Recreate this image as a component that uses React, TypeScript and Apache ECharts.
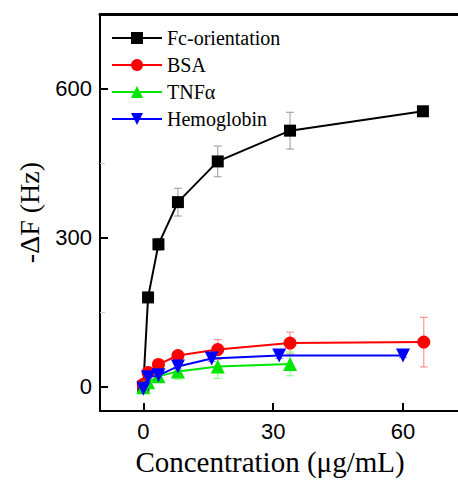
import React, { useEffect, useRef } from "react";
import * as echarts from "echarts";

const seriesNames = ["Fc-orientation", "BSA", "TNFα", "Hemoglobin"];
const seriesColors = ["#000000", "#ff0000", "#00e600", "#0000ff"];
const errColors = ["#999999", "#ff8080", "#80ff80", "#8080ff"];
const symbols = ["rect", "circle", "triangle", "path://M0,0 L10,0 L5,9 Z"];
const symbolSizes = [12, 13, 14, 14];

const fcX = [0, 1.1, 3.5, 8, 17.2, 33.9, 64.6];
const fcY = [0, 179, 286, 371, 453, 515, 554];
const fcErr = [0, 4, 12, 28, 31, 37, 6];

const bsaX = [0, 1.1, 3.5, 8, 17.2, 33.9, 64.8];
const bsaY = [4, 28, 44, 62, 74, 87, 89];
const bsaErr = [0, 4, 5, 6, 20, 22, 50];

const tnfX = [0, 1.1, 3.5, 8, 17.2, 33.9];
const tnfY = [-2, 8, 20, 30, 40, 45];
const tnfErr = [3, 4, 6, 16, 24, 24];

const hbX = [0, 1.1, 3.5, 8, 15.8, 31.4, 60];
const hbY = [-5, 18, 22, 40, 56, 62, 62];
const hbErr = [0, 3, 4, 5, 6, 6, 4];

const xTicks = [0, 30, 60];
const yTicks = [0, 300, 600];
const yMinorTicks = [150, 450];

const allX = [fcX, bsaX, tnfX, hbX];
const allY = [fcY, bsaY, tnfY, hbY];
const allErr = [fcErr, bsaErr, tnfErr, hbErr];

export default function App() {
  const ref = useRef<HTMLDivElement>(null);
  useEffect(() => {
    if (!ref.current) return;
    const chart = echarts.init(ref.current, null, { renderer: "svg" });
    const serif = "Liberation Serif";
    const sans = "Liberation Sans";

    const errSeries = allX.map((xs, i) => ({
      type: "custom",
      name: seriesNames[i] + " err",
      xAxisIndex: 0,
      yAxisIndex: 0,
      z: 1,
      silent: true,
      encode: { x: 0, y: [1, 2] },
      data: xs.map((x, j) => [x, allY[i][j] - allErr[i][j], allY[i][j] + allErr[i][j]]),
      renderItem: (params: any, api: any) => {
        const x = api.value(0);
        const lo = api.coord([x, api.value(1)]);
        const hi = api.coord([x, api.value(2)]);
        const w = 4;
        const st = { stroke: errColors[i], lineWidth: 1 };
        return {
          type: "group",
          children: [
            { type: "line", shape: { x1: lo[0], y1: lo[1], x2: hi[0], y2: hi[1] }, style: st },
            { type: "line", shape: { x1: lo[0] - w, y1: lo[1], x2: lo[0] + w, y2: lo[1] }, style: st },
            { type: "line", shape: { x1: hi[0] - w, y1: hi[1], x2: hi[0] + w, y2: hi[1] }, style: st },
          ],
        };
      },
    }));

    const lineSeries = allX.map((xs, i) => ({
      type: "line",
      name: seriesNames[i],
      xAxisIndex: 0,
      yAxisIndex: 0,
      z: 3 + i,
      symbol: symbols[i],
      symbolSize: symbolSizes[i],
      showAllSymbol: true,
      lineStyle: { color: seriesColors[i], width: 2 },
      itemStyle: { color: seriesColors[i] },
      data: xs.map((x, j) => [x, allY[i][j]]),
    }));

    chart.setOption({
      animation: false,
      backgroundColor: "#ffffff",
      textStyle: { fontFamily: serif },
      grid: { left: 100, right: 0, top: 14, bottom: 65, containLabel: false },
      legend: {
        data: seriesNames.map((n) => ({ name: n, textStyle: { fontFamily: serif, fontSize: 20, color: "#000" } })),
        orient: "vertical",
        left: 106,
        top: 23,
        padding: 5,
        itemWidth: 50,
        itemHeight: 15,
        itemGap: 7,
        textStyle: { fontFamily: serif, fontSize: 20, color: "#000", lineHeight: 20 },
      },
      xAxis: [
        {
          type: "value",
          position: "bottom",
          min: -10,
          max: 72.7,
          name: "Concentration (μg/mL)",
          nameLocation: "middle",
          nameGap: 26,
          nameTextStyle: { fontFamily: serif, fontSize: 29, color: "#000", padding: [0, 18, 0, 0] },
          axisLine: { onZero: false, lineStyle: { color: "#000", width: 2 } },
          axisTick: { inside: true, length: 8, lineStyle: { color: "#000", width: 2 }, customValues: xTicks },
          axisLabel: { customValues: xTicks, fontFamily: sans, fontSize: 22, color: "#000", margin: 9 },
          splitLine: { show: false },
        },
        {
          type: "value",
          position: "top",
          min: -10,
          max: 72.7,
          axisLine: { onZero: false, lineStyle: { color: "#000", width: 3 } },
          axisTick: { show: false },
          axisLabel: { show: false },
          splitLine: { show: false },
        },
      ],
      yAxis: [
        {
          type: "value",
          position: "left",
          min: -50,
          max: 750,
          name: "-ΔF (Hz)",
          nameLocation: "middle",
          nameGap: 57,
          nameTextStyle: { fontFamily: serif, fontSize: 28, color: "#000" },
          axisLine: { onZero: false, lineStyle: { color: "#000", width: 2 } },
          axisTick: { inside: true, length: 8, lineStyle: { color: "#000", width: 2 }, customValues: yTicks },
          axisLabel: { customValues: yTicks, fontFamily: sans, fontSize: 22, color: "#000", margin: 8 },
          splitLine: { show: false },
        },
        {
          type: "value",
          position: "left",
          offset: 0,
          min: -50,
          max: 750,
          axisLine: { show: false, onZero: false },
          axisTick: { inside: true, length: 5, lineStyle: { color: "#cccccc", width: 1 }, customValues: yMinorTicks },
          axisLabel: { show: false },
          splitLine: { show: false },
        },
      ],
      series: [...errSeries, ...lineSeries],
    });
    return () => chart.dispose();
  }, []);
  return <div ref={ref} style={{ position: "absolute", left: 0, top: 0, width: 458, height: 481 }} />;
}
